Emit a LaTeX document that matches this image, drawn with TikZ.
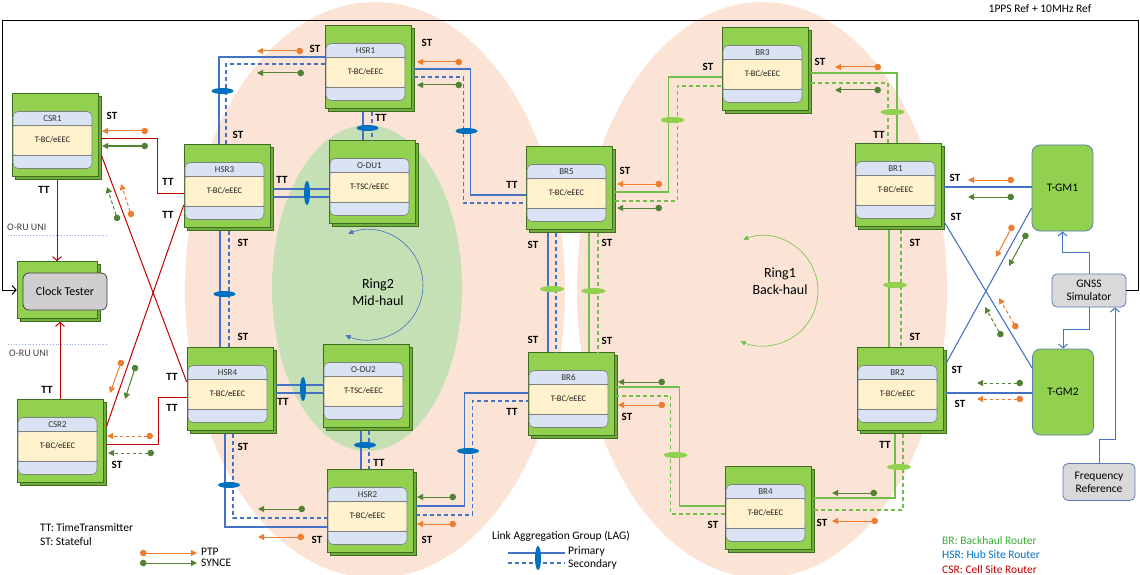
\documentclass[tikz,border=0pt]{standalone}
\usepackage{fontspec}
\setmainfont{Carlito}
\setsansfont{Carlito}
\usetikzlibrary{arrows.meta,shadows,shapes.geometric}

\definecolor{salmon}{HTML}{FBE3D5}
\definecolor{ringgreen}{HTML}{C5E0B4}
\definecolor{boxgreen}{HTML}{92D050}
\definecolor{boxedge}{HTML}{3F6B22}
\definecolor{boxside}{HTML}{6FAE3A}
\definecolor{bandblue}{HTML}{DAE3F3}
\definecolor{bandyellow}{HTML}{FFF2CC}
\definecolor{panelgray}{HTML}{7F7F7F}
\definecolor{linkblue}{HTML}{4472C4}
\definecolor{lagblue}{HTML}{0070C0}
\definecolor{linkgreen}{HTML}{70BF4A}
\definecolor{laggreen}{HTML}{92D050}
\definecolor{csrred}{HTML}{C00000}
\definecolor{ptporange}{HTML}{ED7D31}
\definecolor{syncgreen}{HTML}{548235}
\definecolor{testgray}{HTML}{D0CECE}
\definecolor{gmedge}{HTML}{5B7DB5}
\definecolor{brgreen}{HTML}{3AAA35}

\newcommand{\router}[4]{%
	\node[router] (#1) at (#2) {};
	\node[panel] (#1p) at ([xshift=-2.5pt,yshift=-5pt]#1.center) {};
	\node[ttl] (#1t) at ([yshift=-7.5pt]#1p.north) {#3};
	\node[fn] (#1f) at ([yshift=-28.5pt]#1p.north) {#4};
}

\begin{document}
\begin{tikzpicture}[x=1pt, y=-1pt,
	router/.style={draw=boxedge, line width=0.6pt, fill=boxgreen, minimum width=86pt, minimum height=83pt, inner sep=0pt,
		general shadow={fill=boxside, draw=boxedge, line width=0.6pt, shadow xshift=3pt, shadow yshift=-3pt}},
	panel/.style={draw=panelgray, line width=0.6pt, fill=bandblue, rounded corners=5pt, minimum width=79pt, minimum height=57pt, inner sep=0pt,
		path picture={
			\fill[bandyellow] ([yshift=-14pt]path picture bounding box.north west) rectangle ([yshift=13pt]path picture bounding box.south east);
			\draw[panelgray, line width=0.6pt] ([yshift=-14pt]path picture bounding box.north west) -- ([yshift=-14pt]path picture bounding box.north east)
				([yshift=13pt]path picture bounding box.south west) -- ([yshift=13pt]path picture bounding box.south east);}},
	ttl/.style={font=\fontsize{9}{10}\selectfont, text=black!80, inner sep=0pt},
	fn/.style={font=\fontsize{8.5}{10}\selectfont, text=black!90, inner sep=0pt},
	tester/.style={draw=black!75, line width=0.8pt, fill=testgray, rounded corners=6pt, minimum width=84pt, minimum height=37pt, font=\fontsize{12}{14}\selectfont},
	gm/.style={draw=gmedge, line width=0.8pt, fill=boxgreen, rounded corners=8pt, minimum width=61pt, minimum height=86pt, font=\fontsize{11.5}{14}\selectfont},
	refbox/.style={draw=gmedge, line width=0.8pt, fill=black!15, rounded corners=5pt, minimum width=74pt, minimum height=33pt, align=center, inner sep=1pt, font=\fontsize{11.5}{13}\selectfont},
	pri/.style={draw=linkblue, line width=1.1pt},
	sec/.style={pri, dash pattern=on 4pt off 3pt},
	gpri/.style={draw=linkgreen, line width=1.1pt},
	gsec/.style={gpri, dash pattern=on 4pt off 3pt},
	csr/.style={draw=csrred, line width=1pt},
	ref/.style={draw=black, line width=1pt, -{Straight Barb[length=4pt,width=9pt]}},
	gmref/.style={draw=linkblue, line width=1pt, -{Straight Barb[length=4pt,width=9pt]}},
	lagb/.style={ellipse, fill=lagblue, minimum width=22pt, minimum height=6pt, inner sep=0pt},
	lagv/.style={lagb, minimum width=6pt, minimum height=24pt},
	lagg/.style={lagb, fill=laggreen, minimum width=24pt},
	ptp/.style={draw=ptporange, line width=1pt, {Circle[length=6.5pt]}-{Triangle[length=6pt,width=6pt]}},
	syn/.style={ptp, draw=syncgreen},
	ptpd/.style={ptp, dash pattern=on 3.5pt off 2.5pt},
	synd/.style={syn, dash pattern=on 3.5pt off 2.5pt},
	lbl/.style={font=\bfseries\fontsize{11}{13}\selectfont, inner sep=0pt},
	leg/.style={font=\fontsize{11.5}{13}\selectfont, inner sep=0pt},
	ringtxt/.style={font=\fontsize{14}{17}\selectfont, align=center},
	ringarc/.style={line width=0.6pt, {Triangle[length=5pt,width=5pt]}-{Triangle[length=5pt,width=5pt]}},
	uni/.style={draw=linkblue!60, line width=0.8pt, dotted}]

	\useasboundingbox (0,0) rectangle (1140,575);

	\fill[salmon] (375,290) ellipse [x radius=190pt, y radius=288pt];
	\fill[salmon] (762,290) ellipse [x radius=185pt, y radius=288pt];
	\fill[ringgreen] (367,288) ellipse [x radius=95pt, y radius=163pt];

	\router{csr1}{55,135}{CSR1}{T-BC/eEEC}
	\router{csr2}{60,441}{CSR2}{T-BC/eEEC}
	\router{hsr3}{227,186}{HSR3}{T-BC/eEEC}
	\router{hsr1}{368,67}{HSR1}{T-BC/eEEC}
	\router{odu1}{372,182}{O-DU1}{T-TSC/eEEC}
	\router{hsr4}{230,389}{HSR4}{T-BC/eEEC}
	\router{odu2}{366,386}{O-DU2}{T-TSC/eEEC}
	\router{hsr2}{370,511}{HSR2}{T-BC/eEEC}
	\router{br5}{569,188}{BR5}{T-BC/eEEC}
	\router{br6}{571,394}{BR6}{T-BC/eEEC}
	\router{br3}{765,69}{BR3}{T-BC/eEEC}
	\router{br1}{898,185}{BR1}{T-BC/eEEC}
	\router{br2}{900,389}{BR2}{T-BC/eEEC}
	\router{br4}{768,508}{BR4}{T-BC/eEEC}

	\node[router, minimum width=80pt, minimum height=57pt] (clock) at (57,290) {};
	\node[tester] (clockt) at (65,291.5) {Clock Tester};
	\node[gm] (tgm1) at (1062.5,188) {T-GM1};
	\node[gm] (tgm2) at (1063,392) {T-GM2};
	\node[refbox] (gnss) at (1089,290.5) {GNSS\\Simulator};
	\node[refbox, minimum width=72pt, minimum height=37pt] (freq) at (1099,482) {Frequency\\Reference};

	% cell site links
	\draw[csr] ([xshift=3pt,yshift=-4pt]csr1.east) -- ++(56,0) |- ([yshift=-7pt]hsr3.west);
	\draw[csr] ([xshift=3pt,yshift=-20pt]csr1.east) -- ([yshift=7pt]hsr4.west);
	\draw[csr] ([yshift=-19pt]hsr3.west) -- ([xshift=3pt,yshift=14pt]csr2.east);
	\draw[csr] ([xshift=3pt,yshift=-3pt]csr2.east) -- ++(52,0) |- ([yshift=-8pt]hsr4.west);
	\draw[csr, -{Straight Barb[length=4pt,width=9pt]}] ([xshift=2pt,yshift=-3pt]csr1.south) -- (clock.north);
	\draw[csr, -{Straight Barb[length=4pt,width=9pt]}] (csr2.north) -- ([yshift=-3pt]csr2.north |- clock.south);

	% mid-haul ring
	\draw[pri] ([xshift=-8pt]hsr3.north) |- ([yshift=10pt]hsr1.west);
	\draw[sec] ([xshift=-1pt]hsr3.north) |- ([yshift=3pt]hsr1.west);
	\draw[pri] ([xshift=-5pt,yshift=-3pt]hsr1.south) -- ([xshift=-5pt]hsr1.south |- odu1.north);
	\draw[sec] ([xshift=4pt,yshift=-3pt]hsr1.south) -- ([xshift=4pt]hsr1.south |- odu1.north);
	\draw[pri] ([xshift=3pt,yshift=-2pt]hsr1.east) -- ++(56,0) |- ([yshift=-7pt]br5.west);
	\draw[sec] ([xshift=3pt,yshift=-10pt]hsr1.east) -- ++(49,0) |- ([yshift=-15pt]br5.west);
	\draw[pri] ([xshift=3pt,yshift=-3pt]hsr3.east) -- ([yshift=-3pt]hsr3.east -| odu1.west);
	\draw[pri] ([xshift=3pt,yshift=-11pt]hsr3.east) -- ([yshift=-11pt]hsr3.east -| odu1.west);
	\draw[pri] ([xshift=-7pt,yshift=-3pt]hsr3.south) -- ([xshift=-7pt]hsr3.south |- hsr4.north);
	\draw[sec] ([xshift=2pt,yshift=-3pt]hsr3.south) -- ([xshift=2pt]hsr3.south |- hsr4.north);
	\draw[pri] ([xshift=3pt,yshift=4pt]hsr4.east) -- ([yshift=4pt]hsr4.east -| odu2.west);
	\draw[pri] ([xshift=3pt,yshift=-4pt]hsr4.east) -- ([yshift=-4pt]hsr4.east -| odu2.west);
	\draw[pri] ([xshift=-5pt,yshift=-3pt]hsr4.south) |- ([yshift=-16pt]hsr2.west);
	\draw[sec] ([xshift=3pt,yshift=-3pt]hsr4.south) |- ([yshift=-7pt]hsr2.west);
	\draw[pri] ([xshift=-5pt,yshift=-3pt]odu2.south) -- ([xshift=-5pt]odu2.south |- hsr2.north);
	\draw[sec] ([xshift=3pt,yshift=-3pt]odu2.south) -- ([xshift=3pt]odu2.south |- hsr2.north);
	\draw[pri] ([xshift=3pt,yshift=5pt]hsr2.east) -- ++(48,0) |- ([yshift=1pt]br6.west);
	\draw[sec] ([xshift=3pt,yshift=-4pt]hsr2.east) -- ++(56,0) |- ([yshift=-7pt]br6.west);
	\draw[pri] ([xshift=-21pt,yshift=-3pt]br5.south) -- ([xshift=-21pt]br5.south |- br6.north);
	\draw[sec] ([xshift=-13pt,yshift=-3pt]br5.south) -- ([xshift=-13pt]br5.south |- br6.north);

	% back-haul ring
	\draw[gpri] ([xshift=20pt,yshift=-3pt]br5.south) -- ([xshift=20pt]br5.south |- br6.north);
	\draw[gsec] ([xshift=29pt,yshift=-3pt]br5.south) -- ([xshift=29pt]br5.south |- br6.north);
	\draw[gpri] ([xshift=3pt,yshift=-4pt]br5.east) -- ++(53,0) |- ([yshift=-8pt]br3.west);
	\draw[gsec] ([xshift=3pt,yshift=-13pt]br5.east) -- ++(62,0) |- ([yshift=-17pt]br3.west);
	\draw[gpri] ([xshift=3pt,yshift=-4pt]br3.east) -| ([xshift=-1pt]br1.north);
	\draw[gsec] ([xshift=3pt,yshift=-14pt]br3.east) -| ([xshift=-10pt]br1.north);
	\draw[gpri] ([xshift=-9pt,yshift=-3pt]br1.south) -- ([xshift=-9pt]br1.south |- br2.north);
	\draw[gsec] ([xshift=3pt,yshift=-3pt]br1.south) -- ([xshift=3pt]br1.south |- br2.north);
	\draw[gpri] ([xshift=-5pt,yshift=-3pt]br2.south) |- ([xshift=3pt,yshift=10pt]br4.east);
	\draw[gsec] ([xshift=3pt,yshift=-3pt]br2.south) |- ([xshift=3pt,yshift=-2pt]br4.east);
	\draw[gpri] ([yshift=2pt]br4.west) -- ++(-45,0) |- ([xshift=3pt,yshift=7pt]br6.east);
	\draw[gsec] ([yshift=-6pt]br4.west) -- ++(-54,0) |- ([xshift=3pt,yshift=-2pt]br6.east);

	% grandmasters and references
	\draw[pri] ([xshift=3pt,yshift=-2pt]br1.east) -- ([yshift=-2pt]br1.east -| tgm1.west);
	\draw[pri] ([xshift=3pt,yshift=-37pt]br1.east) -- ([yshift=24pt]tgm2.west);
	\draw[pri] ([xshift=3pt,yshift=26pt]br2.east) -- ([yshift=-20pt]tgm1.west);
	\draw[pri] ([xshift=3pt,yshift=-4pt]br2.east) -- ([yshift=-4pt]br2.east -| tgm2.west);
	\draw[ref] (gnss.east) -- ++(12,0) |- (2,21) |- (clock.west);
	\draw[gmref] (gnss.north) -- ++(0,-21) -| (tgm1.south);
	\draw[gmref] (gnss.south) -- ++(0,22) -| (tgm2.north);
	\draw[gmref] (freq.north) -- ++(0,-24) -| ([xshift=26pt]gnss.south);

	\node[lagb] (lag1) at (222.5,91) {};
	\node[lagb] (lag2) at (367.5,128) {};
	\node[lagb] (lag3) at (466.5,131) {};
	\node[lagv] (lag4) at (307,193) {};
	\node[lagb] (lag5) at (224.5,294) {};
	\node[lagv] (lag6) at (303,389) {};
	\node[lagb] (lag7) at (229,485) {};
	\node[lagb] (lag8) at (365,445) {};
	\node[lagb] (lag9) at (468,451) {};
	\node[lagg] (lag10) at (552,289) {};
	\node[lagg] (lag11) at (593.5,291) {};
	\node[lagg] (lag12) at (672.5,120) {};
	\node[lagg] (lag13) at (892.5,112) {};
	\node[lagg] (lag14) at (895,285) {};
	\node[lagg] (lag15) at (899,467) {};
	\node[lagg] (lag16) at (675.5,455) {};

	\draw[ptp] (148,131) -- (102,131);
	\draw[syn] (148,146) -- (102,146);
	\draw[ptpd] (132,217) -- (121,184);
	\draw[synd] (118,221) -- (107,187);
	\draw[ptp] (122,360) -- (110,393);
	\draw[syn] (136,365) -- (125,399);
	\draw[ptpd] (153,436) -- (107,436);
	\draw[synd] (154,453) -- (108,453);
	\draw[ptp] (303,51) -- (257,51);
	\draw[syn] (304,73) -- (257,73);
	\draw[ptp] (462,62) -- (417,62);
	\draw[syn] (462,85) -- (417,85);
	\draw[syn] (305,509) -- (258,509);
	\draw[ptp] (304,537) -- (258,537);
	\draw[syn] (456,497) -- (417,497);
	\draw[ptp] (456,524) -- (417,524);
	\draw[ptp] (662,184) -- (617,184);
	\draw[syn] (662,208) -- (617,208);
	\draw[syn] (665,382) -- (618,382);
	\draw[ptp] (665,405) -- (618,405);
	\draw[ptp] (881,67) -- (835,67);
	\draw[syn] (881,90) -- (835,90);
	\draw[syn] (877,493) -- (832,493);
	\draw[ptp] (878,521) -- (832,521);
	\draw[ptp] (1014,180) -- (968,180);
	\draw[syn] (1014,197) -- (968,197);
	\draw[ptp] (1013,225) -- (996,257);
	\draw[syn] (1027,233) -- (1009,266);
	\draw[ptpd] (1017,329) -- (999,298);
	\draw[synd] (1002,337) -- (985,307);
	\draw[synd] (1023,383) -- (977,383);
	\draw[ptpd] (1023,399) -- (977,399);

	\path[every node/.style={lbl}]
		(112,116) node (st1) {ST}
		(44,190) node (tt1) {TT}
		(168,182) node (tt2) {TT}
		(168,215) node (tt3) {TT}
		(47,390) node (tt4) {TT}
		(172,377) node (tt5) {TT}
		(172,408) node (tt6) {TT}
		(117,465) node (st2) {ST}
		(238,135) node (st3) {ST}
		(315,49) node (st4) {ST}
		(427,43) node (st5) {ST}
		(381,118) node (tt7) {TT}
		(282,180) node (tt8) {TT}
		(243,243) node (st6) {ST}
		(243,337) node (st7) {ST}
		(283,402) node (tt9) {TT}
		(243,447) node (st8) {ST}
		(379,463) node (tt10) {TT}
		(317,540) node (st9) {ST}
		(427,540) node (st10) {ST}
		(512,185) node (tt11) {TT}
		(625,171) node (st11) {ST}
		(533,245) node (st12) {ST}
		(607,243) node (st13) {ST}
		(533,340) node (st14) {ST}
		(607,341) node (st15) {ST}
		(512,412) node (tt12) {TT}
		(627,417) node (st16) {ST}
		(708,67) node (st17) {ST}
		(820,62) node (st18) {ST}
		(879,135) node (tt13) {TT}
		(955,178) node (st19) {ST}
		(956,217) node (st20) {ST}
		(915,243) node (st21) {ST}
		(915,337) node (st22) {ST}
		(957,370) node (st23) {ST}
		(960,404) node (st24) {ST}
		(885,445) node (tt14) {TT}
		(713,525) node (st25) {ST}
		(822,523) node (st26) {ST};

	\node[ringtxt] (ring2) at (378,292) {Ring2\\Mid-haul};
	\node[ringtxt] (ring1) at (780,281) {Ring1\\Back-haul};
	\coordinate (r2c) at (368,285);
	\coordinate (r1c) at (763,291);
	\draw[ringarc, linkblue] ([shift={(111:55pt)}]r2c) arc[start angle=111, end angle=-114, radius=55pt];
	\draw[ringarc, linkgreen] ([shift={(111:55pt)}]r1c) arc[start angle=111, end angle=-114, radius=55pt];

	\node[leg, text=black!75, font=\fontsize{10}{12}\selectfont, anchor=west] (oru1) at (7,227) {O-RU UNI};
	\node[leg, text=black!75, font=\fontsize{10}{12}\selectfont, anchor=west] (oru2) at (9,353) {O-RU UNI};
	\draw[uni] (8,235) -- (107,235);
	\draw[uni] (8,344) -- (107,344);

	\node[leg] (pps) at (1040,9) {1PPS Ref + 10MHz Ref};

	\node[leg, anchor=west] (ttleg) at (40,528) {TT: TimeTransmitter};
	\node[leg, anchor=west] (stleg) at (40,542) {ST: Stateful};
	\draw[ptp] (140,553) -- (197,553);
	\draw[syn] (140,563) -- (197,563);
	\node[leg, anchor=west] (ptpleg) at (201,552) {PTP};
	\node[leg, anchor=west] (synleg) at (201,563) {SYNCE};

	\node[leg, anchor=west] (lagleg) at (492,536) {Link Aggregation Group (LAG)};
	\draw[pri] (508,553) -- (565,553);
	\draw[sec] (508,563) -- (565,563);
	\node[lagv] (lagl) at (538,558) {};
	\node[leg, anchor=west] (prileg) at (568,551) {Primary};
	\node[leg, anchor=west] (secleg) at (568,564) {Secondary};

	\node[leg, anchor=west, text=brgreen] (brleg) at (942,541) {BR: Backhaul Router};
	\node[leg, anchor=west, text=lagblue] (hsrleg) at (942,555) {HSR: Hub Site Router};
	\node[leg, anchor=west, text=csrred] (csrleg) at (942,570) {CSR: Cell Site Router};
\end{tikzpicture}
\end{document}
